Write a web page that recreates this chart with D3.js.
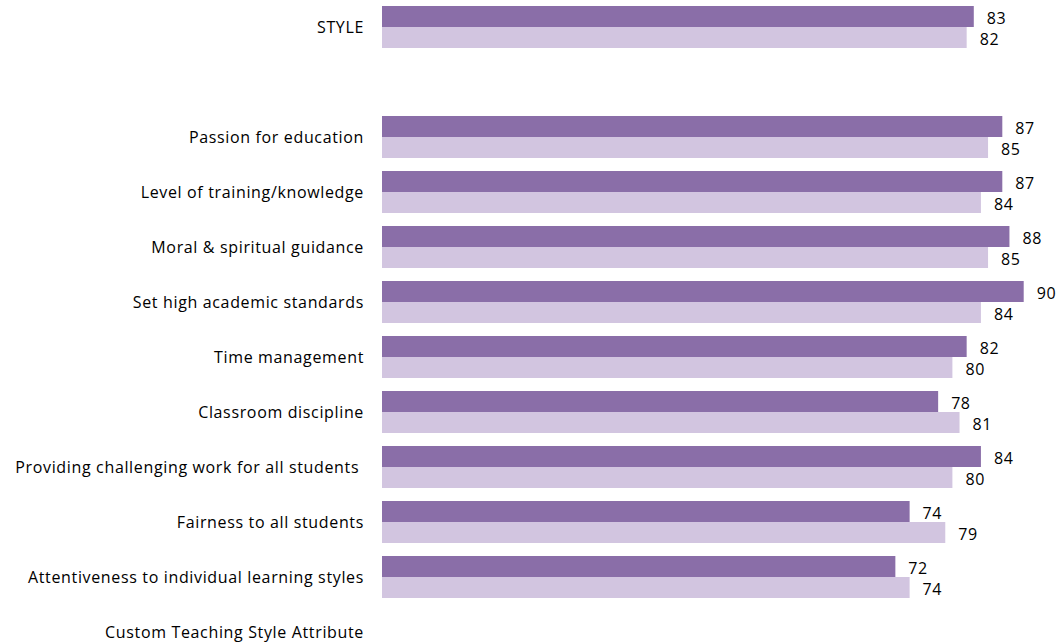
<!DOCTYPE html>
<html>
<head>
<meta charset="utf-8">
<script src="https://cdn.jsdelivr.net/npm/d3@7"></script>
<style>
  html, body { margin: 0; padding: 0; background: #fff; }
  svg { display: block; }
  text { font-family: "Open Sans", sans-serif; fill: #000; }
</style>
</head>
<body>
<svg id="chart" width="1060" height="644"></svg>
<script>
const categories = [
  "STYLE",
  "",
  "Passion for education",
  "Level of training/knowledge",
  "Moral & spiritual guidance",
  "Set high academic standards",
  "Time management",
  "Classroom discipline",
  "Providing challenging work for all students ",
  "Fairness to all students",
  "Attentiveness to individual learning styles",
  "Custom Teaching Style Attribute"
];
const seriesNames = ["Series A", "Series B"];
const seriesA = [83, null, 87, 87, 88, 90, 82, 78, 84, 74, 72, null];
const seriesB = [82, null, 85, 84, 85, 84, 80, 81, 80, 79, 74, null];
const colors = ["#8a6ea8", "#d2c5e0"];

const svg = d3.select("#chart");
const keys = categories.map((c, i) => i);

const x = d3.scaleLinear().domain([0, 100]).range([382, 382 + 713]);
const y = d3.scaleBand().domain(keys).range([-0.5, 659.5])
  .paddingInner(13 / 55).paddingOuter(6.5 / 55);
const ySub = d3.scaleBand().domain([0, 1]).range([0, y.bandwidth()]);

const rows = keys.map(i => ({ i, vals: [seriesA[i], seriesB[i]] }));

const g = svg.append("g");
rows.forEach(r => {
  r.vals.forEach((v, s) => {
    if (v == null) return;
    g.append("rect")
      .attr("x", x(0))
      .attr("y", y(r.i) + ySub(s))
      .attr("width", x(v) - x(0))
      .attr("height", ySub.bandwidth())
      .attr("fill", colors[s]);
    g.append("text")
      .attr("x", x(v) + 13)
      .attr("y", y(r.i) + ySub(s) + ySub.bandwidth() / 2 + 2)
      .attr("dy", "0.35em")
      .attr("font-size", 16)
      .attr("letter-spacing", 0.6)
      .text(v);
  });
});

const axis = d3.axisLeft(y).tickSize(0).tickPadding(18).tickFormat(i => categories[i]);
const ag = svg.append("g").attr("transform", `translate(${x(0)},0)`).call(axis);
ag.select(".domain").remove();
ag.selectAll("text")
  .style("font-family", "'Open Sans', sans-serif")
  .attr("font-size", 16)
  .attr("letter-spacing", 0.65)
  .attr("dy", "0.4em")
  .attr("fill", "#000")
  .style("white-space", "pre");
</script>
</body>
</html>
